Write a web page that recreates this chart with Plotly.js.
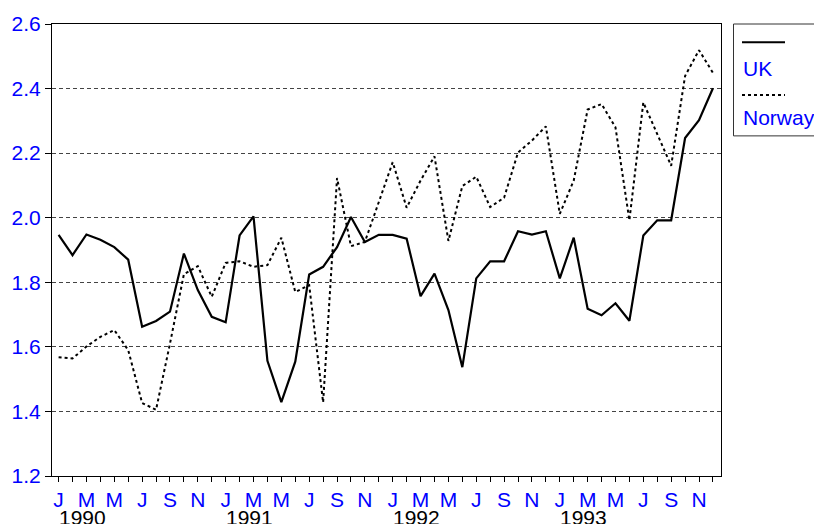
<!DOCTYPE html>
<html>
<head>
<meta charset="utf-8">
<script src="https://cdn.plot.ly/plotly-3.0.1.min.js"></script>
<style>html,body{margin:0;padding:0;background:#fff;}#chart{width:814px;height:524px;}</style>
</head>
<body>
<div id="chart"></div>
<script>
// ---- data ----
const years = [1990, 1991, 1992, 1993];
const monthLetters = ['J','F','M','A','M','J','J','A','S','O','N','D'];
const seriesNames = ['UK', 'Norway'];
const uk = [1.947, 1.884, 1.948, 1.932, 1.909, 1.870, 1.662, 1.680, 1.709, 1.889,
            1.776, 1.693, 1.676, 1.945, 2.004, 1.557, 1.429, 1.554, 1.824, 1.848,
            1.909, 2.002, 1.925, 1.947, 1.947, 1.935, 1.757, 1.827, 1.714, 1.537,
            1.812, 1.865, 1.865, 1.958, 1.948, 1.958, 1.812, 1.938, 1.718, 1.698,
            1.735, 1.681, 1.945, 1.992, 1.992, 2.247, 2.302, 2.401];
const norway = [1.568, 1.564, 1.601, 1.631, 1.652, 1.590, 1.426, 1.405, 1.610, 1.825,
                1.850, 1.755, 1.860, 1.865, 1.848, 1.853, 1.938, 1.770, 1.791, 1.428,
                2.123, 1.912, 1.925, 2.048, 2.172, 2.031, 2.115, 2.190, 1.928, 2.098,
                2.127, 2.033, 2.062, 2.202, 2.239, 2.283, 2.012, 2.115, 2.335, 2.352,
                2.280, 1.992, 2.357, 2.259, 2.161, 2.439, 2.519, 2.449];
const yTicks = [1.2, 1.4, 1.6, 1.8, 2.0, 2.2, 2.4, 2.6];

// ---- derived axis helpers ----
const x = [], tickvals = [], ticktext = [];
years.forEach((yr, yi) => {
  monthLetters.forEach((m, mi) => {
    const idx = yi * 12 + mi;
    x.push(idx);
    tickvals.push(idx);
    ticktext.push(mi % 2 === 0 ? m : '');
  });
});

const FONT = 'Liberation Sans, Arial, sans-serif';
const BLUE = '#0000ff';
const FS = 21;

const traces = [
  {x: x, y: uk, name: seriesNames[0], type: 'scatter', mode: 'lines',
   line: {color: '#000', width: 2.2}, showlegend: false},
  {x: x, y: norway, name: seriesNames[1], type: 'scatter', mode: 'lines',
   line: {color: '#000', width: 2, dash: 'dot'}, showlegend: false}
];

// paper helpers for custom legend (pixel -> paper)
const L = 52, T = 24, W = 669, H = 452.5;
const px = v => (v - L) / W;
const py = v => (T + H - v) / H;

const annotations = years.map((yr, yi) => ({
  x: yi * 12, y: py(505), xref: 'x', yref: 'paper', xanchor: 'left', yanchor: 'top',
  text: String(yr), showarrow: false, xshift: -2,
  font: {family: FONT, size: FS, color: '#000'}
}));
annotations.push({x: px(741), y: py(68.5), xref: 'paper', yref: 'paper', xanchor: 'left', yanchor: 'middle',
  text: seriesNames[0], showarrow: false, font: {family: FONT, size: FS, color: BLUE}});
annotations.push({x: px(741), y: py(118), xref: 'paper', yref: 'paper', xanchor: 'left', yanchor: 'middle',
  text: seriesNames[1], showarrow: false, font: {family: FONT, size: FS, color: BLUE}});

const shapes = [
  {type: 'rect', xref: 'paper', yref: 'paper', x0: px(733.5), x1: px(840), y0: py(136), y1: py(24),
   line: {color: '#333', width: 1}, fillcolor: 'rgba(0,0,0,0)'},
  {type: 'line', xref: 'paper', yref: 'paper', x0: px(742), x1: px(785), y0: py(42.3), y1: py(42.3),
   line: {color: '#000', width: 2}},
  {type: 'line', xref: 'paper', yref: 'paper', x0: px(742), x1: px(785), y0: py(95), y1: py(95),
   line: {color: '#000', width: 2, dash: 'dot'}}
];

const layout = {
  width: 814, height: 524,
  margin: {l: L, r: 814 - L - W, t: T, b: 524 - T - H, pad: 0},
  paper_bgcolor: '#fff', plot_bgcolor: '#fff',
  showlegend: false,
  font: {family: FONT, size: FS, color: BLUE},
  xaxis: {
    range: [-0.474, 47.58], tickmode: 'array', tickvals: tickvals, ticktext: ticktext,
    ticks: 'outside', ticklen: 5, tickwidth: 1, tickcolor: '#000',
    showgrid: false, zeroline: false, showline: true, linecolor: '#000', linewidth: 1, mirror: true,
    tickfont: {family: FONT, size: FS, color: BLUE}, tickangle: 0
  },
  yaxis: {
    range: [1.2, 2.6], tickmode: 'array', tickvals: yTicks, tickformat: '.1f',
    ticks: 'outside', ticklen: 6, tickwidth: 1, tickcolor: '#000',
    showgrid: true, gridcolor: '#444', gridwidth: 1, griddash: '4px,3px',
    zeroline: false, showline: true, linecolor: '#000', linewidth: 1, mirror: true,
    tickfont: {family: FONT, size: FS, color: BLUE}
  },
  annotations: annotations,
  shapes: shapes
};

Plotly.newPlot('chart', traces, layout, {displayModeBar: false, staticPlot: true});
</script>
</body>
</html>
